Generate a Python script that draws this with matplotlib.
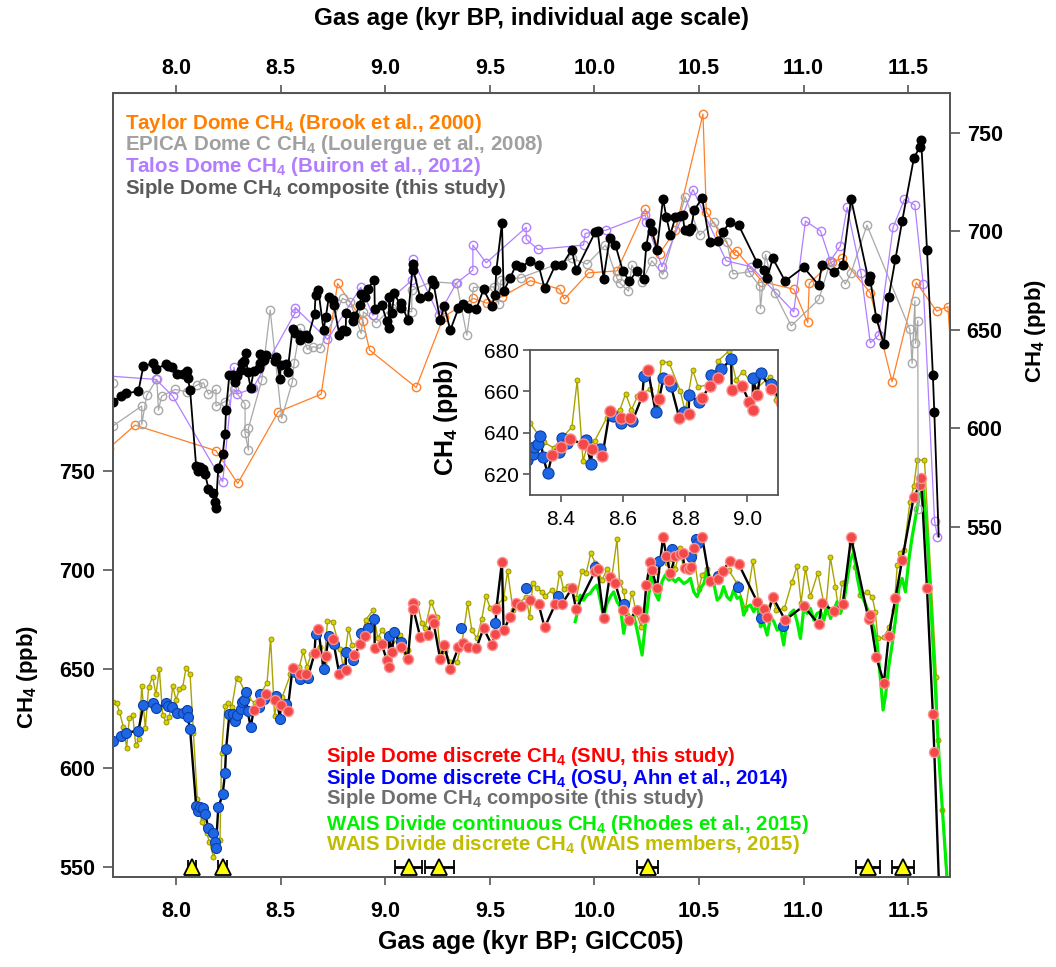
import matplotlib.pyplot as plt
import numpy as np

plt.rcParams['font.family'] = ['Liberation Sans', 'DejaVu Sans']
plt.rcParams['font.weight'] = 'bold'
plt.rcParams['mathtext.fontset'] = 'custom'
plt.rcParams['mathtext.rm'] = 'Liberation Sans:bold'
plt.rcParams['mathtext.default'] = 'rm'

# ---- Siple Dome discrete CH4, SNU (GICC05 gas age, kyr BP ; ppb)
snu_age = [8.371, 8.400, 8.428, 8.471, 8.500, 8.533, 8.557, 8.594, 8.622, 8.662,
           8.680, 8.716, 8.748, 8.781, 8.811, 8.853, 8.881, 8.905, 8.950, 8.983,
           9.007, 9.018, 9.032, 9.077, 9.108, 9.132, 9.135, 9.167, 9.204, 9.224,
           9.231, 9.263, 9.282, 9.311, 9.350, 9.374, 9.398, 9.435, 9.470, 9.510,
           9.525, 9.531, 9.558, 9.566, 9.598, 9.626, 9.649, 9.690, 9.733, 9.762,
           9.813, 9.845, 9.892, 9.913, 10.004, 10.015, 10.044, 10.073, 10.100, 10.136,
           10.167, 10.203, 10.235, 10.248, 10.267, 10.275, 10.299, 10.328, 10.344, 10.363,
           10.387, 10.407, 10.422, 10.431, 10.450, 10.462, 10.478, 10.515, 10.551, 10.591,
           10.615, 10.647, 10.690, 10.778, 10.813, 10.826, 10.853, 10.912, 11.000, 11.072,
           11.088, 11.144, 11.187, 11.227, 11.311, 11.316, 11.348, 11.384, 11.407, 11.439,
           11.471, 11.527, 11.556, 11.562, 11.590, 11.618, 11.625]
snu_ch4 = [629.2, 633.3, 637.2, 634.4, 632.0, 628.8, 650.4, 647.2, 647.2, 657.9,
           670.4, 656.4, 665.3, 647.2, 649.3, 656.8, 662.7, 666.4, 660.5, 662.7,
           654.7, 650.9, 658.4, 661.2, 654.8, 683.5, 680.1, 666.3, 667.1, 675.5,
           673.4, 654.8, 662.1, 649.8, 660.9, 663.2, 660.9, 660.4, 670.5, 662.1,
           667.6, 680.1, 704.2, 669.7, 676.4, 683.1, 681.8, 684.8, 682.8, 671.0,
           682.8, 682.8, 690.7, 680.1, 699.6, 700.3, 676.0, 696.6, 693.2, 679.8,
           674.7, 679.8, 676.0, 692.4, 704.2, 700.0, 690.7, 716.5, 707.1, 698.3,
           707.1, 707.9, 708.4, 700.8, 700.3, 701.7, 710.9, 716.8, 694.6, 695.3,
           699.6, 704.7, 703.0, 684.0, 680.1, 676.4, 686.2, 674.7, 681.8, 672.7,
           683.1, 679.4, 682.8, 716.5, 675.0, 677.2, 655.8, 643.0, 666.6, 685.7,
           705.0, 737.0, 743.0, 746.4, 690.7, 627.2, 608.1]

# ---- Siple Dome discrete CH4, OSU (Ahn et al., 2014)
osu_age = [7.697, 7.735, 7.759, 7.820, 7.844, 7.892, 7.904, 7.952, 7.963, 7.982,
           8.006, 8.032, 8.051, 8.056, 8.067, 8.096, 8.104, 8.115, 8.131, 8.139,
           8.155, 8.175, 8.187, 8.190, 8.202, 8.223, 8.234, 8.239, 8.255, 8.274,
           8.282, 8.290, 8.309, 8.314, 8.327, 8.333, 8.342, 8.357, 8.395, 8.403,
           8.419, 8.479, 8.497, 8.527, 8.568, 8.592, 8.630, 8.667, 8.705, 8.730,
           8.754, 8.797, 8.813, 8.845, 8.883, 8.916, 8.948, 9.018, 9.043, 9.077,
           9.363, 9.523, 9.672, 9.827, 10.001, 10.143, 10.307, 10.371, 10.462, 10.488,
           10.495, 10.591, 10.687, 10.798, 10.902]
osu_ch4 = [613.5, 616.2, 617.7, 618.8, 631.7, 632.9, 630.0, 632.6, 631.4, 630.9,
           627.5, 627.5, 629.2, 625.5, 619.6, 580.8, 578.3, 580.3, 579.5, 576.6,
           569.4, 566.9, 562.6, 559.3, 580.0, 586.7, 597.2, 609.3, 627.2, 627.2,
           623.6, 626.7, 629.6, 633.3, 634.4, 638.4, 628.5, 620.5, 630.7, 637.5,
           634.9, 636.4, 624.8, 632.4, 648.3, 644.8, 645.6, 667.5, 649.9, 666.4,
           662.7, 649.9, 658.4, 654.7, 668.0, 670.7, 675.5, 666.4, 668.8, 663.5,
           670.8, 673.0, 690.7, 686.8, 701.3, 682.6, 704.7, 710.6, 706.7, 715.8,
           713.8, 697.0, 691.6, 676.0, 671.7]

# OSU data enter the composite only up to this age; composite ends below the axis
osu_composite_limit = 9.1
composite_tail_age = 11.646
composite_tail_ch4 = 545.0

# ---- WAIS Divide continuous CH4 (Rhodes et al., 2015)
wais_cont_age = [9.908, 9.924, 9.932, 9.948, 9.964, 9.980, 9.996, 10.012, 10.028, 10.044,
                 10.060, 10.076, 10.092, 10.108, 10.124, 10.140, 10.156, 10.172, 10.188, 10.204,
                 10.228, 10.244, 10.259, 10.275, 10.291, 10.307, 10.323, 10.339, 10.355, 10.371,
                 10.387, 10.403, 10.427, 10.443, 10.459, 10.475, 10.491, 10.507, 10.523, 10.539,
                 10.555, 10.571, 10.587, 10.603, 10.618, 10.634, 10.650, 10.666, 10.682, 10.698,
                 10.714, 10.730, 10.746, 10.762, 10.778, 10.794, 10.810, 10.826, 10.842, 10.858,
                 10.874, 10.889, 10.905, 10.921, 10.937, 10.953, 10.969, 10.985, 11.001, 11.017,
                 11.033, 11.049, 11.065, 11.081, 11.097, 11.113, 11.129, 11.145, 11.160, 11.176,
                 11.192, 11.208, 11.224, 11.240, 11.256, 11.272, 11.288, 11.304, 11.320, 11.336,
                 11.352, 11.368, 11.380, 11.392, 11.407, 11.423, 11.439, 11.455, 11.471, 11.487,
                 11.503, 11.519, 11.551, 11.572, 11.591, 11.620, 11.650, 11.686]
wais_cont_ch4 = [673.9, 680.6, 687.3, 684.8, 687.3, 688.2, 690.7, 692.4, 684.8, 676.4,
                 683.1, 686.5, 689.0, 684.0, 681.4, 668.0, 677.2, 673.9, 677.2, 669.6,
                 657.0, 673.0, 686.5, 700.0, 688.2, 684.8, 694.1, 697.5, 694.9, 695.8,
                 694.1, 695.8, 693.2, 694.1, 695.8, 689.0, 686.5, 690.7, 693.2, 699.1,
                 695.8, 693.2, 684.8, 686.5, 691.6, 686.5, 684.8, 689.9, 685.7, 686.5,
                 677.2, 681.4, 682.3, 678.9, 683.1, 671.3, 673.0, 667.1, 676.4, 673.9,
                 669.6, 671.3, 662.1, 674.7, 678.1, 679.8, 673.9, 665.4, 680.6, 678.1,
                 680.6, 674.7, 678.1, 678.9, 674.7, 682.3, 675.5, 679.8, 684.0, 678.1,
                 683.1, 694.9, 705.0, 709.3, 696.6, 688.2, 684.8, 680.6, 676.4, 670.5,
                 662.9, 644.4, 629.2, 636.8, 651.1, 662.1, 674.7, 690.7, 695.8, 689.0,
                 705.0, 716.8, 736.0, 742.0, 717.0, 660.0, 600.0, 544.0]

# ---- WAIS Divide discrete CH4 (WAIS members, 2015)
wais_disc_age = [7.700, 7.716, 7.729, 7.748, 7.764, 7.777, 7.793, 7.807, 7.823, 7.836,
                 7.853, 7.869, 7.888, 7.904, 7.920, 7.936, 7.952, 7.968, 7.984, 8.000,
                 8.016, 8.032, 8.048, 8.067, 8.083, 8.102, 8.123, 8.147, 8.159, 8.179,
                 8.210, 8.218, 8.234, 8.250, 8.266, 8.290, 8.300, 8.344, 8.376, 8.435,
                 8.452, 8.471, 8.484, 8.508, 8.547, 8.590, 8.608, 8.627, 8.646, 8.687,
                 8.708, 8.724, 8.748, 8.784, 8.800, 8.824, 8.842, 8.884, 8.907, 8.942,
                 8.964, 8.986, 9.029, 9.072, 9.094, 9.111, 9.127, 9.154, 9.175, 9.191,
                 9.219, 9.247, 9.266, 9.287, 9.311, 9.343, 9.367, 9.394, 9.414, 9.439,
                 9.462, 9.481, 9.502, 9.534, 9.566, 9.585, 9.611, 9.639, 9.673, 9.690,
                 9.706, 9.725, 9.749, 9.765, 9.797, 9.813, 9.834, 9.853, 9.872, 9.913,
                 9.940, 9.961, 9.983, 10.004, 10.036, 10.060, 10.084, 10.108, 10.120, 10.140,
                 10.156, 10.180, 10.200, 10.224, 10.251, 10.275, 10.299, 10.323, 10.347, 10.371,
                 10.387, 10.408, 10.427, 10.446, 10.475, 10.499, 10.515, 10.539, 10.568, 10.602,
                 10.642, 10.682, 10.722, 10.758, 10.790, 10.822, 10.849, 10.870, 10.908, 10.945,
                 10.969, 10.988, 11.009, 11.033, 11.068, 11.105, 11.128, 11.152, 11.168, 11.184,
                 11.200, 11.227, 11.248, 11.272, 11.304, 11.328, 11.343, 11.355, 11.384, 11.408,
                 11.432, 11.448, 11.460, 11.480, 11.508, 11.527, 11.543, 11.578, 11.635, 11.643,
                 11.664, 11.690]
wais_disc_ch4 = [633.4, 632.6, 628.4, 620.8, 610.2, 625.3, 626.7, 611.5, 614.5, 641.5,
                 619.9, 641.0, 646.0, 637.1, 649.9, 626.7, 623.3, 625.8, 641.5, 634.3,
                 639.8, 641.0, 650.6, 647.4, 617.7, 584.0, 572.7, 566.9, 562.6, 555.1,
                 563.5, 607.6, 631.4, 632.6, 630.6, 645.6, 644.8, 635.5, 632.8, 642.9,
                 665.3, 626.4, 633.6, 636.0, 647.2, 651.2, 658.9, 651.2, 657.6, 661.2,
                 653.1, 674.4, 673.9, 660.3, 650.3, 670.4, 662.1, 663.8, 674.9, 679.7,
                 665.6, 669.6, 661.2, 667.2, 655.7, 659.5, 680.6, 683.1, 673.0, 670.8,
                 684.0, 676.4, 655.3, 659.2, 653.6, 653.6, 663.2, 683.1, 669.7, 665.4,
                 675.5, 686.8, 680.9, 682.3, 685.7, 699.6, 679.7, 683.1, 686.5, 676.4,
                 693.2, 690.7, 689.0, 686.8, 689.9, 684.8, 698.6, 690.2, 691.9, 685.7,
                 699.6, 698.6, 708.7, 703.4, 694.9, 700.3, 696.9, 715.5, 694.1, 689.5,
                 677.2, 688.5, 678.4, 671.3, 692.4, 703.7, 699.1, 706.4, 703.7, 705.4,
                 700.3, 710.9, 700.3, 700.8, 707.6, 690.2, 697.5, 700.3, 694.1, 699.6,
                 700.0, 693.2, 680.1, 704.7, 680.6, 678.1, 686.2, 679.8, 680.6, 694.1,
                 702.0, 683.5, 700.8, 686.8, 698.6, 678.9, 706.4, 691.6, 679.4, 693.2,
                 694.1, 713.5, 701.7, 687.3, 689.0, 686.5, 678.9, 665.4, 665.9, 671.0,
                 679.8, 702.5, 708.4, 710.1, 734.2, 742.6, 755.6, 755.6, 646.0, 614.0,
                 578.6, 530.0]

# ---- Taylor Dome CH4 (Brook et al., 2000), individual age scale
taylor_age = [7.680, 7.804, 8.191, 8.295, 8.489, 8.694, 8.772, 8.893, 8.925, 9.148,
              9.279, 9.422, 9.486, 9.558, 9.694, 9.834, 9.856, 9.972, 10.108, 10.243,
              10.312, 10.387, 10.519, 10.535, 10.602, 10.666, 10.680, 10.802, 10.953, 11.020,
              11.027, 11.136, 11.184, 11.319, 11.423, 11.539, 11.636, 11.690, 11.720]
taylor_ch4 = [590.0, 601.6, 588.6, 572.0, 608.4, 617.3, 673.5, 654.6, 639.7, 620.7,
              656.6, 665.9, 663.5, 666.8, 674.9, 670.6, 665.6, 678.9, 679.9, 711.3,
              688.7, 700.6, 759.5, 709.9, 698.9, 688.7, 690.0, 674.4, 670.6, 653.7,
              673.5, 684.5, 686.2, 668.8, 623.6, 673.9, 659.5, 661.7, 615.0]

# ---- EPICA Dome C CH4 (Loulergue et al., 2008)
edc_age = [7.697, 7.700, 7.836, 7.836, 7.860, 7.908, 7.916, 7.931, 7.995, 8.051,
           8.099, 8.131, 8.155, 8.191, 8.191, 8.234, 8.277, 8.330, 8.330, 8.346,
           8.346, 8.410, 8.450, 8.505, 8.556, 8.564, 8.593, 8.628, 8.657, 8.689,
           8.796, 8.832, 8.885, 8.896, 8.957, 9.032, 9.127, 9.127, 9.223, 9.342,
           9.390, 9.422, 9.518, 9.542, 9.553, 9.649, 9.893, 9.965, 10.053, 10.108,
           10.124, 10.163, 10.179, 10.227, 10.275, 10.327, 10.434, 10.503, 10.570, 10.634,
           10.663, 10.738, 10.790, 10.794, 10.818, 10.861, 10.941, 11.073, 11.128, 11.200,
           11.227, 11.303, 11.508, 11.519, 11.532, 11.535, 11.546, 11.548]
edc_ch4 = [622.8, 601.3, 611.3, 602.0, 616.8, 624.8, 609.2, 616.3, 619.7, 618.5,
           621.9, 623.1, 617.3, 619.7, 611.3, 613.5, 619.7, 612.3, 597.4, 588.9,
           600.0, 624.5, 660.0, 605.0, 623.6, 632.9, 650.7, 640.0, 641.4, 640.5,
           665.9, 664.2, 648.1, 659.1, 653.6, 661.3, 659.1, 670.1, 674.4, 673.5,
           647.3, 671.5, 671.8, 663.0, 675.2, 676.4, 686.2, 683.3, 693.0, 676.1,
           673.5, 669.6, 682.8, 674.4, 685.0, 678.1, 717.5, 698.0, 704.8, 694.7,
           678.3, 679.4, 672.2, 660.8, 688.2, 668.8, 652.0, 665.4, 684.5, 673.2,
           678.9, 703.1, 650.2, 632.9, 664.6, 643.1, 654.6, 559.0]

# ---- Talos Dome CH4 (Buiron et al., 2012)
talos_age = [7.680, 7.904, 7.984, 8.223, 8.277, 8.290, 8.367, 8.569, 8.569, 8.724,
             8.883, 8.941, 9.127, 9.132, 9.255, 9.339, 9.419, 9.419, 9.483, 9.674,
             9.674, 9.730, 9.948, 9.956, 10.056, 10.243, 10.248, 10.323, 10.471, 10.630,
             10.750, 10.953, 11.009, 11.081, 11.128, 11.176, 11.208, 11.275, 11.319, 11.359,
             11.428, 11.482, 11.532, 11.572, 11.626, 11.640]
talos_ch4 = [626.5, 624.8, 616.3, 572.8, 630.9, 617.3, 620.2, 658.6, 661.3, 645.1,
             671.5, 657.4, 675.2, 685.7, 657.4, 673.5, 680.3, 693.0, 684.0, 702.0,
             696.0, 690.8, 693.0, 698.9, 700.6, 708.2, 704.8, 682.0, 721.2, 685.0,
             682.0, 659.1, 705.2, 700.1, 685.0, 692.5, 712.1, 678.6, 643.4, 647.3,
             702.0, 716.2, 713.3, 673.0, 553.0, 545.0]

# ---- age tie points (yellow triangles) with uncertainty
tie_age = [8.075, 8.223, 9.112, 9.259, 10.254, 11.310, 11.475]
tie_err = [0.018, 0.022, 0.064, 0.068, 0.048, 0.057, 0.052]
tie_level = 550

age_ticks = [8.0, 8.5, 9.0, 9.5, 10.0, 10.5, 11.0, 11.5]
ch4_ticks = [550, 600, 650, 700, 750]
inset_xticks = [8.4, 8.6, 8.8, 9.0]
inset_yticks = [620, 640, 660, 680]

# composite = SNU + OSU (OSU only where the composite uses it)
snu_a, snu_c = np.array(snu_age), np.array(snu_ch4)
osu_a, osu_c = np.array(osu_age), np.array(osu_ch4)
use = osu_a <= osu_composite_limit
comp_age = np.concatenate([snu_a, osu_a[use]])
comp_ch4 = np.concatenate([snu_c, osu_c[use]])
order = np.argsort(comp_age)
comp_age, comp_ch4 = comp_age[order], comp_ch4[order]
comp_line_age = np.append(comp_age, composite_tail_age)
comp_line_ch4 = np.append(comp_ch4, composite_tail_ch4)

FRAME = '#555555'
W, H = 1056, 967
fig = plt.figure(figsize=(W / 100, H / 100), dpi=100)
ax = fig.add_axes([113.3 / W, 1 - 877 / H, (950 - 113.3) / W, (877 - 93) / H])
ax.set_xlim(7.7, 11.7)
ax.set_ylim(544.8, 941.2)

# bottom panel (GICC05)
ax.plot(wais_disc_age, wais_disc_ch4, '-', color='#A9A300', lw=1.0, zorder=2)
ax.plot(wais_disc_age, wais_disc_ch4, 'o', ms=3.6, mfc='#D8D200', mec='#8F8900', mew=0.6, zorder=2)
ax.plot(wais_cont_age, wais_cont_ch4, '-', color='#00EE00', lw=2.3, zorder=3)
ax.plot(comp_line_age, comp_line_ch4, '-', color='black', lw=1.7, zorder=4)
ax.plot(osu_age, osu_ch4, 'o', ms=7.2, mfc='#1F66E5', mec='#0B3FA8', mew=0.8, zorder=5)
ax.plot(snu_age, snu_ch4, 'o', ms=7.2, mfc='#F24848', mec='#FF9090', mew=1.0, zorder=6)
ax.errorbar(tie_age, [tie_level] * len(tie_age), xerr=tie_err, fmt='^', ms=11,
            mfc='#FFFF00', mec='black', mew=1.3, ecolor='black', elinewidth=2.0,
            capsize=5, capthick=2.0, zorder=7, clip_on=False)

ax.set_xticks(age_ticks)
ax.set_xticklabels(['%.1f' % t for t in age_ticks])
ax.set_yticks(ch4_ticks)
ax.tick_params(axis='x', direction='out', length=6, width=1.2, color=FRAME, labelsize=15.5, pad=11)
ax.tick_params(axis='y', direction='out', length=7, width=1.2, color=FRAME, labelsize=15.5, pad=6)
for s in ax.spines.values():
    s.set_color(FRAME)
    s.set_linewidth(1.3)

top = ax.secondary_xaxis('top')
top.set_xticks(age_ticks)
top.set_xticklabels(['%.1f' % t for t in age_ticks])
top.tick_params(direction='out', length=6, width=1.2, color=FRAME, labelsize=15.5, pad=4)
top.spines['top'].set_color(FRAME)

# top panel (individual age scales), right axis
axr = ax.twinx()
axr.set_ylim(372.2, 770.2)
axr.set_yticks(ch4_ticks)
axr.tick_params(axis='y', direction='out', length=7, width=1.2, color=FRAME, labelsize=15.5, pad=5)
for s in axr.spines.values():
    s.set_color(FRAME)
    s.set_linewidth(1.3)

open_style = dict(lw=0.9, ms=6, mfc='none', mew=1.0)
axr.plot(taylor_age, taylor_ch4, '-o', color='#FF7F27', **open_style)
axr.plot(edc_age, edc_ch4, '-o', color='#A8A8A8', **open_style)
axr.plot(talos_age, talos_ch4, '-o', color='#B07EFF', **open_style)
axr.plot(comp_line_age, comp_line_ch4, '-', color='black', lw=1.3)
axr.plot(comp_age, comp_ch4, 'o', color='black', ms=6.2)

# axis titles
fig.text(531 / W, 1 - 942 / H, 'Gas age (kyr BP; GICC05)', ha='center', va='center', fontsize=18)
fig.text(531 / W, 1 - 19 / H, 'Gas age (kyr BP, individual age scale)', ha='center', va='center', fontsize=17.5)
fig.text(28 / W, 1 - 677 / H, 'CH$_4$ (ppb)', ha='center', va='center', rotation=90, fontsize=16)
fig.text(1036 / W, 1 - 331 / H, 'CH$_4$ (ppb)', ha='center', va='center', rotation=90, fontsize=16)

# legends as coloured text
top_labels = ['Taylor Dome CH$_4$ (Brook et al., 2000)',
              'EPICA Dome C CH$_4$ (Loulergue et al., 2008)',
              'Talos Dome CH$_4$ (Buiron et al., 2012)',
              'Siple Dome CH$_4$ composite (this study)']
top_colors = ['#FF7F00', '#A0A0A0', '#B27CFF', '#5A5A5A']
top_base = [129, 150.5, 172.5, 194]
for lab, col, yb in zip(top_labels, top_colors, top_base):
    fig.text(125 / W, 1 - yb / H, lab, color=col, fontsize=14.8, ha='left', va='baseline')

bot_labels = ['Siple Dome discrete CH$_4$ (SNU, this study)',
              'Siple Dome discrete CH$_4$ (OSU, Ahn et al., 2014)',
              'Siple Dome CH$_4$ composite (this study)',
              'WAIS Divide continuous CH$_4$ (Rhodes et al., 2015)',
              'WAIS Divide discrete CH$_4$ (WAIS members, 2015)']
bot_colors = ['#FF0000', '#0000FF', '#6E6E6E', '#00F000', '#C2BC00']
bot_base = [761.5, 783.5, 804.5, 829.5, 850.5]
for lab, col, yb in zip(bot_labels, bot_colors, bot_base):
    fig.text(326 / W, 1 - yb / H, lab, color=col, fontsize=14.7, ha='left', va='baseline')

# inset
ins = fig.add_axes([530 / W, 1 - 495 / H, 248.3 / W, 145 / H])
ins.set_facecolor('white')
ins.set_xlim(8.3, 9.1)
ins.set_ylim(610, 680)
ins.plot(wais_disc_age, wais_disc_ch4, '-', color='#A9A300', lw=1.0)
ins.plot(wais_disc_age, wais_disc_ch4, 'o', ms=3.6, mfc='#D8D200', mec='#8F8900', mew=0.6)
ins.plot(comp_line_age, comp_line_ch4, '-', color='black', lw=1.7)
ins.plot(osu_age, osu_ch4, 'o', ms=8, mfc='#1F66E5', mec='#0B3FA8', mew=0.8)
ins.plot(snu_age, snu_ch4, 'o', ms=8, mfc='#F24848', mec='#FF9090', mew=1.0)
ins.set_xticks(inset_xticks)
ins.set_xticklabels(['%.1f' % t for t in inset_xticks], fontweight='normal')
ins.set_yticks(inset_yticks)
ins.set_yticklabels([str(v) for v in inset_yticks], fontweight='normal')
ins.tick_params(axis='x', direction='out', length=5, width=1.2, color=FRAME, labelsize=15, pad=6)
ins.tick_params(axis='y', direction='out', length=5, width=1.2, color=FRAME, labelsize=15, pad=3)
for s in ins.spines.values():
    s.set_color(FRAME)
    s.set_linewidth(1.3)
fig.text(446 / W, 1 - 418 / H, 'CH$_4$ (ppb)', ha='center', va='center', rotation=90, fontsize=18)

fig.savefig('out.png', dpi=100)
